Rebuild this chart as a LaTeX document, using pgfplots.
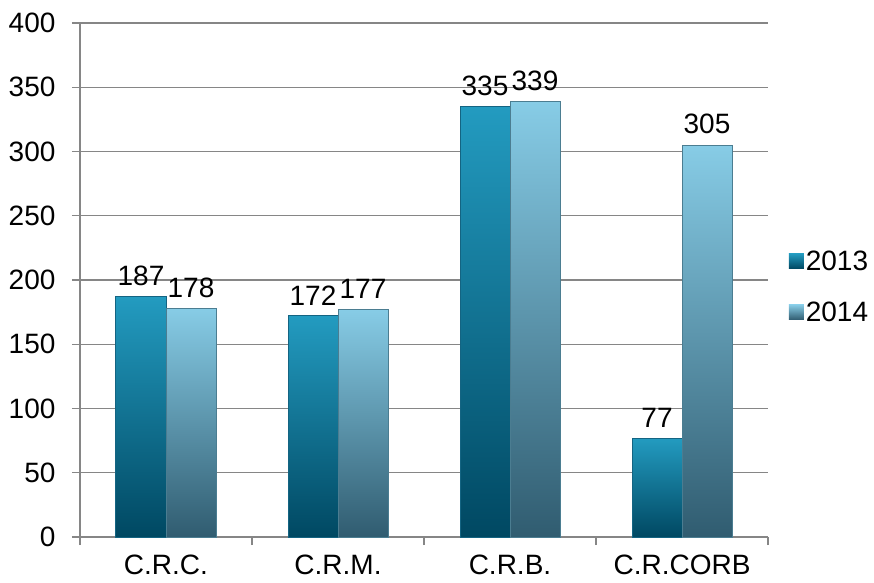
\documentclass[border=0pt]{standalone}
\usepackage{fontspec}
\setmainfont{Liberation Sans}
\usepackage{pgfplots}
\pgfplotsset{compat=1.18}
\definecolor{gridgray}{RGB}{134,134,134}
\definecolor{aTop}{RGB}{35,155,192}
\definecolor{aBot}{RGB}{0,72,98}
\definecolor{aEdge}{RGB}{20,100,130}
\definecolor{bTop}{RGB}{135,204,230}
\definecolor{bBot}{RGB}{48,92,112}
\definecolor{bEdge}{RGB}{75,125,145}
\begin{document}
\begin{tikzpicture}
\useasboundingbox (-80pt,-45pt) rectangle (794pt,537pt);
\begin{axis}[
  scale only axis,
  width=688pt, height=514pt,
  xmin=-0.5, xmax=3.5,
  ymin=0, ymax=400,
  ytick={0,50,...,400},
  xtick={0,1,2,3},
  xticklabels={C.R.C.,C.R.M.,C.R.B.,C.R.CORB},
  minor xtick={-0.5,0.5,1.5,2.5,3.5},
  axis x line*=bottom,
  axis y line*=left,
  axis line style={gridgray, line width=1.4pt},
  ymajorgrids,
  grid style={gridgray, line width=1.4pt},
  tick align=outside,
  major tick length=8pt,
  minor tick length=8pt,
  every tick/.style={gridgray, line width=1.4pt},
  major x tick style={draw=none},
  /pgf/number format/assume math mode=true,
  tick label style={font=\fontsize{28}{33}\selectfont, black},
  yticklabel style={xshift=-13pt},
  xticklabel style={yshift=-6pt},
  ybar=0pt,
  bar width=50pt,
  nodes near coords,
  every node near coord/.append style={font=\fontsize{28}{33}\selectfont, black, yshift=7pt},
  legend style={draw=none, fill=none, at={(1.03,0.487)}, anchor=west,
    font=\fontsize{28}{33}\selectfont, row sep=26pt, inner sep=0pt},
  legend cell align=left,
  legend image code/.code={\path[#1, draw=none] (0pt,-7.5pt) rectangle (15pt,7.5pt);},
  Aser/.style={top color=aTop, bottom color=aBot, draw=aEdge, line width=1pt, bar shift=-25pt, forget plot},
  Bser/.style={top color=bTop, bottom color=bBot, draw=bEdge, line width=1pt, bar shift=25pt, forget plot},
]
% 2013
\addplot[Aser] coordinates {(0,187)};
\addplot[Aser] coordinates {(1,172)};
\addplot[Aser] coordinates {(2,335)};
\addplot[Aser] coordinates {(3,77)};
% 2014
\addplot[Bser] coordinates {(0,178)};
\addplot[Bser] coordinates {(1,177)};
\addplot[Bser] coordinates {(2,339)};
\addplot[Bser] coordinates {(3,305)};
\addlegendimage{top color=aTop, bottom color=aBot}
\addlegendentry{2013}
\addlegendimage{top color=bTop, bottom color=bBot}
\addlegendentry{2014}
\end{axis}
\end{tikzpicture}
\end{document}
